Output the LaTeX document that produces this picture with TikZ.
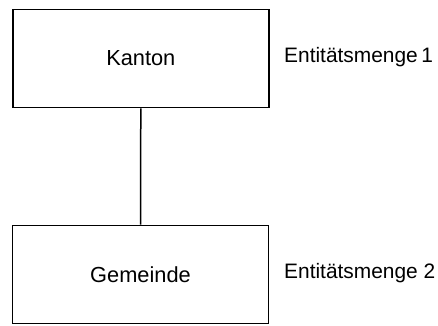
\documentclass[tikz,border=0pt]{standalone}
\usepackage{fontspec}
\setmainfont{Liberation Sans}
\begin{document}
\begin{tikzpicture}[x=1pt,y=1pt,
  entbox/.style={draw, line width=1.7pt, minimum width=256pt, minimum height=98pt, inner sep=0pt, font=\fontsize{21.8}{24}\selectfont},
  lbl/.style={anchor=west, inner sep=0pt, font=\fontsize{20.9}{24}\selectfont}]
\useasboundingbox (0,0) rectangle (438,325);
\node[entbox] (k) at (140.8,266.5) {Kanton};
\node[entbox] (g) at (140.5,50.5) {Gemeinde};
\draw[line width=1.5pt] (k.south) -- (g.north);
\node[lbl] (l1) at (284,268) {Entitätsmenge\,1};
\node[lbl] (l2) at (284,52) {Entitätsmenge 2};
\end{tikzpicture}
\end{document}
